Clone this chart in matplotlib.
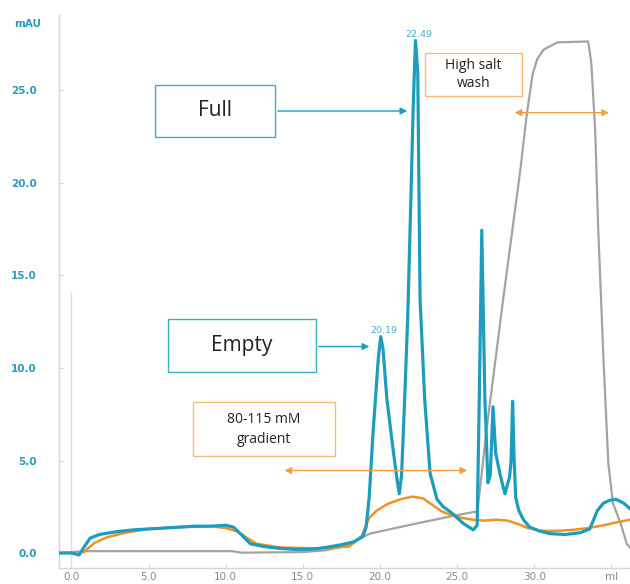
import matplotlib
matplotlib.use("Agg")
import matplotlib.pyplot as plt
from matplotlib.patches import Rectangle

# UV trace (mAU)
blue_ml = [-0.8, 0.0, 0.5, 0.8, 1.2, 1.8, 2.9, 4.0, 5.0, 6.0, 7.0, 8.0, 9.0, 10.0, 10.5, 11.0, 11.6,
           12.5, 13.5, 14.5, 15.5, 16.5, 17.5, 18.3, 18.9, 19.1, 19.3, 19.55, 19.9, 20.05, 20.2, 20.45,
           20.85, 21.1, 21.25, 21.4, 21.6, 21.8, 22.0, 22.15, 22.3, 22.45, 22.6, 22.9, 23.25, 23.7,
           24.1, 24.6, 25.0, 25.4, 26.05, 26.3, 26.45, 26.6, 26.8, 27.0, 27.15, 27.33, 27.5, 27.8,
           28.1, 28.4, 28.5, 28.6, 28.7, 28.8, 29.0, 29.3, 29.7, 30.3, 31.0, 32.0, 33.0, 33.6, 33.9,
           34.1, 34.5, 34.9, 35.3, 35.8, 36.2]
blue_mau = [0.0, 0.0, -0.1, 0.3, 0.8, 1.0, 1.15, 1.25, 1.3, 1.35, 1.4, 1.45, 1.45, 1.5, 1.4, 1.0, 0.5,
            0.35, 0.25, 0.2, 0.2, 0.3, 0.45, 0.6, 0.9, 1.4, 3.0, 6.5, 10.6, 11.7, 11.0, 8.3,
            5.6, 4.0, 3.2, 4.2, 8.3, 12.8, 19.0, 24.0, 27.7, 26.0, 13.7, 8.3, 4.3, 2.9,
            2.5, 2.2, 1.9, 1.6, 1.25, 1.5, 9.0, 17.45, 8.4, 3.8, 4.2, 7.9, 5.4, 4.2,
            3.2, 4.1, 5.0, 8.2, 5.0, 3.0, 2.3, 1.8, 1.4, 1.2, 1.05, 1.0, 1.1, 1.3, 1.9,
            2.3, 2.7, 2.85, 2.9, 2.7, 2.4]

# orange trace
orange_ml = [0.8, 1.5, 2.3, 3.5, 5.0, 7.0, 9.0, 10.0, 10.8, 11.4, 12.0, 13.5, 16.0, 18.0, 18.8, 19.3,
             19.8, 20.5, 21.3, 22.1, 22.8, 23.4, 24.0, 24.6, 25.3, 26.0, 26.8, 27.5, 28.3, 29.0,
             29.6, 30.5, 31.5, 32.5, 33.5, 34.5, 35.3, 36.2]
orange_mau = [0.05, 0.55, 0.85, 1.1, 1.3, 1.4, 1.45, 1.35, 1.15, 0.8, 0.5, 0.3, 0.25, 0.35, 0.9, 1.9,
              2.3, 2.65, 2.9, 3.05, 2.95, 2.6, 2.25, 2.05, 1.9, 1.8, 1.75, 1.8, 1.75, 1.55,
              1.35, 1.2, 1.2, 1.25, 1.35, 1.5, 1.65, 1.8]

# gray trace
gray_ml = [-0.8, 0.8, 10.4, 11.0, 15.0, 16.5, 17.6, 18.5, 19.35, 21.0, 22.4, 25.0, 26.3, 26.45, 26.9,
           28.0, 29.1, 29.5, 29.9, 30.2, 30.6, 31.5, 33.5, 33.7, 33.95, 34.15, 34.5, 34.8, 35.1,
           35.6, 36.0, 36.3]
gray_mau = [0.0, 0.1, 0.1, 0.02, 0.05, 0.15, 0.35, 0.7, 1.05, 1.35, 1.6, 2.05, 2.25, 3.2, 6.6,
            13.8, 20.7, 23.6, 25.9, 26.7, 27.2, 27.6, 27.65, 26.5, 22.9, 17.5, 10.3, 4.9, 2.7,
            1.6, 0.5, 0.2]

x_ticks = [0, 5, 10, 15, 20, 25, 30, 35]
x_ticklabels = ["0.0", "5.0", "10.0", "15.0", "20.0", "25.0", "30.0", "ml"]
y_ticks = [0, 5, 10, 15, 20, 25]
y_ticklabels = ["0.0", "5.0", "10.0", "15.0", "20.0", "25.0"]

peaks = [(20.19, 20.27, 12.02), (22.49, 22.54, 28.0)]

teal = "#1c9dbd"
teal_txt = "#2a9cb6"
orange = "#ef9220"
gray = "#a3a3a3"

fig = plt.figure(figsize=(6.3, 5.84), dpi=100)
ax = fig.add_axes([59 / 630, 1 - 568 / 584, 1 - 59 / 630, (568 - 15) / 584])

ax.set_xlim(-0.81, 36.21)
ax.set_ylim(-0.81, 29.08)

# injection marker
ax.axvline(0, ymin=0, ymax=(14.05 + 0.81) / (29.08 + 0.81), color="#e8d6ec", lw=1)

ax.plot(gray_ml, gray_mau, color=gray, lw=1.6, zorder=2)
ax.plot(orange_ml, orange_mau, color=orange, lw=1.8, zorder=3)
ax.plot(blue_ml, blue_mau, color=teal, lw=2.3, zorder=4)

for lab, px, py in peaks:
    ax.text(px, py, "%.2f" % lab, color="#45b0c8", fontsize=6.8, ha="center", va="center", zorder=5)

for s in ["top", "right"]:
    ax.spines[s].set_visible(False)
for s in ["left", "bottom"]:
    ax.spines[s].set_color("#d4d4dc")
    ax.spines[s].set_linewidth(1.0)

ax.set_xticks(x_ticks)
ax.set_xticklabels(x_ticklabels)
ax.set_yticks(y_ticks)
ax.set_yticklabels(y_ticklabels)
ax.tick_params(axis="x", direction="in", length=3, color="#d4d4dc", labelsize=7.5,
               labelcolor="#8a8a8a", pad=3)
ax.tick_params(axis="y", direction="in", length=3, color="#d4d4dc", labelsize=7.5,
               labelcolor=teal_txt, pad=16)
for t in ax.get_yticklabels():
    t.set_fontweight("bold")
fig.text(14 / 630, 1 - 24 / 584, "mAU", color=teal_txt, fontsize=7.5, fontweight="bold",
         ha="left", va="center")

font = "Open Sans"

# boxes
boxes = [
    (5.41, 22.49, 7.78, 2.81, "#3aaec4", "Full", 15, 1.2),
    (6.26, 9.78, 9.60, 2.86, "#3aaec4", "Empty", 15, 1.2),
    (7.88, 5.24, 9.21, 2.92, "#f5bb75", "80-115 mM\ngradient", 10, 1.45),
    (22.92, 24.70, 6.30, 2.35, "#f5bb75", "High salt\nwash", 10, 1.25),
]
for x0, y0, w, h, ec, txt, fs, lsp in boxes:
    ax.add_patch(Rectangle((x0, y0), w, h, fill=True, facecolor="white", edgecolor=ec, lw=1.0,
                           zorder=6))
    ax.text(x0 + w / 2, y0 + h / 2, txt, ha="center", va="center", fontsize=fs, family=font,
            color="#222222", linespacing=lsp, zorder=7)

# arrows
ax.annotate("", xy=(21.95, 23.89), xytext=(13.2, 23.89),
            arrowprops=dict(arrowstyle="-|>", color=teal, lw=1.0, mutation_scale=10), zorder=6)
ax.annotate("", xy=(19.49, 11.16), xytext=(15.86, 11.16),
            arrowprops=dict(arrowstyle="-|>", color=teal, lw=1.0, mutation_scale=10), zorder=6)
ax.annotate("", xy=(25.84, 4.46), xytext=(13.63, 4.46),
            arrowprops=dict(arrowstyle="<|-|>", color="#f0a040", lw=1.0, mutation_scale=10), zorder=6)
ax.annotate("", xy=(35.03, 23.8), xytext=(28.55, 23.8),
            arrowprops=dict(arrowstyle="<|-|>", color="#f0a040", lw=1.0, mutation_scale=10), zorder=6)

fig.savefig("out.png", dpi=100)
